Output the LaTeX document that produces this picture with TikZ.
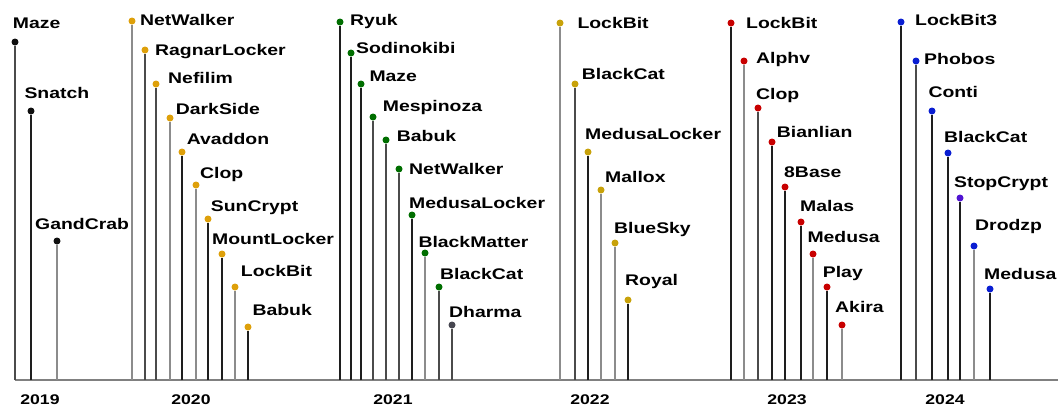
\documentclass[tikz,border=0pt]{standalone}
\usepackage{fontspec}
\newfontfamily\lblfont[FakeStretch=1.26]{Liberation Sans}
\definecolor{grpblack}{RGB}{15,15,15}
\definecolor{grporange}{RGB}{222,160,10}
\definecolor{grpgreen}{RGB}{0,110,0}
\definecolor{grpgold}{RGB}{200,162,10}
\definecolor{grpred}{RGB}{200,0,0}
\definecolor{grpblue}{RGB}{10,30,210}
\definecolor{grpviolet}{RGB}{80,20,210}
\definecolor{grpgray}{RGB}{70,70,80}
\definecolor{stemdk}{RGB}{30,30,30}
\definecolor{stemmd}{RGB}{75,75,75}
\definecolor{stemlt}{RGB}{140,140,140}
\begin{document}
\begin{tikzpicture}[x=1pt, y=-1pt,
    pin/.style={circle, fill=#1, inner sep=0pt, minimum size=7pt},
    stem/.style={draw=stem#1, line width=1.3pt},
    lbl/.style={anchor=base west, inner sep=0pt, font=\lblfont\bfseries\fontsize{15.4}{16}\selectfont},
    yearlbl/.style={inner sep=0pt, font=\lblfont\bfseries\fontsize{14}{15}\selectfont}]
    \useasboundingbox (0,0) rectangle (1058,408);

    % Time axis
    \coordinate (ax0) at (15,380);
    \coordinate (ax1) at (1058,380);
    \draw[line width=1.4pt, black!50] (ax0) -- (ax1);

    % Year labels
    \node[yearlbl] (y2019) at (40,400) {2019};
    \node[yearlbl] (y2020) at (191,400) {2020};
    \node[yearlbl] (y2021) at (393,400) {2021};
    \node[yearlbl] (y2022) at (590,400) {2022};
    \node[yearlbl] (y2023) at (787,400) {2023};
    \node[yearlbl] (y2024) at (945,400) {2024};

    % Groups: dot x / dot y / label x / label y / dot colour / stem shade / name
    \foreach \x/\y/\lx/\ly/\c/\s/\t in {
        15/42/12.7/22.7/grpblack/md/Maze,
        31/111/24.3/92.5/grpblack/dk/Snatch,
        57/241/35/224/grpblack/lt/GandCrab,
        132/21/140/20/grporange/lt/NetWalker,
        145/50/155/49.7/grporange/md/RagnarLocker,
        156/84/168/77.7/grporange/md/Nefilim,
        170/118/175.7/108.7/grporange/lt/DarkSide,
        182/152/186.7/138.7/grporange/dk/Avaddon,
        196/185/200/172.7/grporange/lt/Clop,
        208/219/210.7/205.7/grporange/dk/SunCrypt,
        222/254/212/239.3/grporange/dk/MountLocker,
        235/287/240.7/270.7/grporange/lt/LockBit,
        248/327/252.3/310/grporange/dk/Babuk,
        340/22/350/20/grpgreen/dk/Ryuk,
        351/53/356/47.5/grpgreen/dk/Sodinokibi,
        361/84/369.3/76/grpgreen/dk/Maze,
        373/117/382.7/106/grpgreen/md/Mespinoza,
        386/140/396.7/136.3/grpgreen/md/Babuk,
        399/169/409/168.7/grpgreen/md/NetWalker,
        412/215/409/203/grpgreen/dk/MedusaLocker,
        425/253/418.3/241.7/grpgreen/lt/BlackMatter,
        439/287/440/274.3/grpgreen/md/BlackCat,
        452/325/449/312/grpgray/md/Dharma,
        560/23/577.3/22.7/grpgold/lt/LockBit,
        575/84/581.7/74.3/grpgold/md/BlackCat,
        588/152/585/133.7/grpgold/dk/MedusaLocker,
        601/190/605/177/grpgold/lt/Mallox,
        615/243/614/228/grpgold/lt/BlueSky,
        628/300/625/280/grpgold/dk/Royal,
        731/23/746/22.7/grpred/dk/LockBit,
        744/61/756/57.7/grpred/lt/Alphv,
        758/108/756/94.3/grpred/md/Clop,
        772/142/776.7/132.3/grpred/dk/Bianlian,
        785/187/784/171.7/grpred/dk/8Base,
        801/222/800/206.3/grpred/dk/Malas,
        813/254/807.3/237/grpred/lt/Medusa,
        827/287/822.7/272/grpred/dk/Play,
        842/325/835/306.7/grpred/lt/Akira,
        901/22/915/20/grpblue/dk/LockBit3,
        916/61/924/58.7/grpblue/md/Phobos,
        932/111/928.3/92.3/grpblue/dk/Conti,
        948/153/944/137/grpblue/dk/BlackCat,
        960/198/954/182/grpviolet/dk/StopCrypt,
        974/246/975/225/grpblue/lt/Drodzp,
        990/289/984/274/grpblue/dk/Medusa} {
        \node[pin=\c] (d\x) at (\x,\y) {};
        \coordinate (b\x) at (\x,380);
        \draw[stem=\s] (b\x) -- (d\x);
        \node[lbl] (l\x) at (\lx,\ly+5.5) {\t};
    }
\end{tikzpicture}
\end{document}
